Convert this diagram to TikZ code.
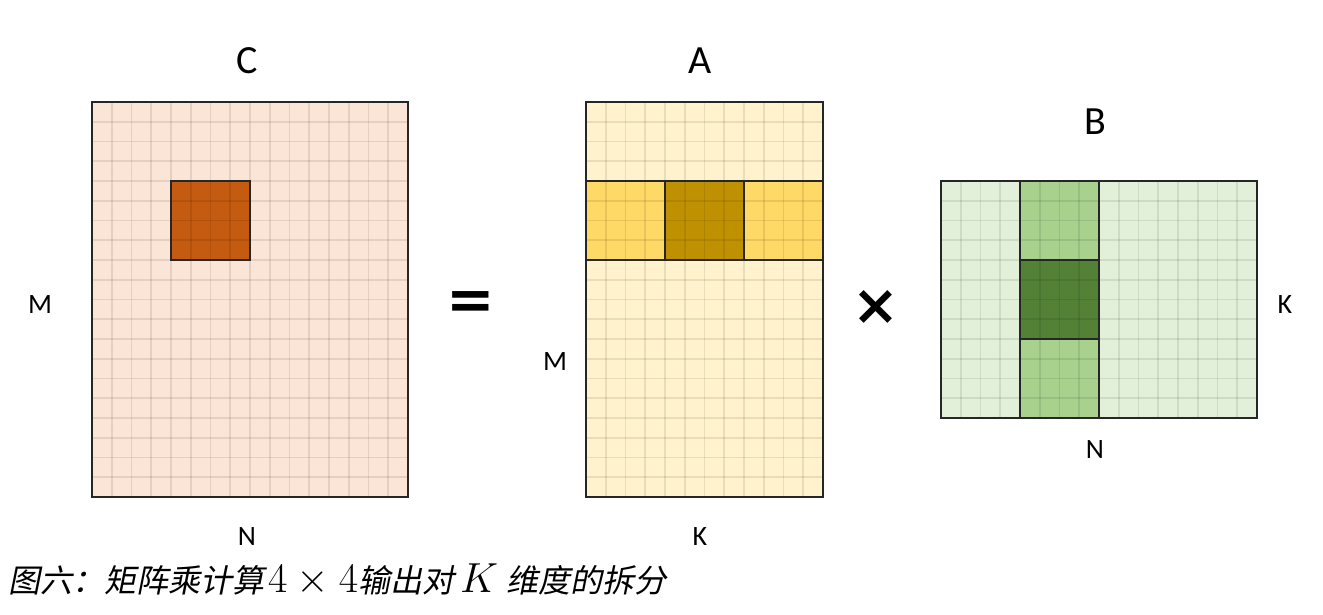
\RequirePackage{fix-cm}
\documentclass[tikz,border=0pt]{standalone}
\usepackage{fontspec}
\setmainfont{Carlito}
\newfontfamily\cjk{Noto Sans CJK SC}[FakeSlant=0.2]
\newfontfamily\symf{DejaVu Sans}
\definecolor{cfill}{HTML}{FBE5D6}
\definecolor{cdark}{HTML}{C55A11}
\definecolor{afill}{HTML}{FFF2CC}
\definecolor{aband}{HTML}{FFD966}
\definecolor{adark}{HTML}{BF9000}
\definecolor{bfill}{HTML}{E2F0D9}
\definecolor{bband}{HTML}{A9D18E}
\definecolor{bdark}{HTML}{538135}
\newcommand\bigmath[1]{{\fontsize{42}{44}\selectfont$#1$}}
\begin{document}
\begin{tikzpicture}[x=1pt,y=-1pt,
  gl/.style={black,opacity=0.09,line width=1.6pt},
  frame/.style={draw=black!85,line width=1.3pt},
  blk/.style={draw=black!85,line width=1.1pt},
  title/.style={font=\fontsize{40}{48}\selectfont,inner sep=0pt},
  dim/.style={font=\fontsize{28}{34}\selectfont,inner sep=0pt}]
\useasboundingbox (0,0) rectangle (1323,614);
\def\c{19.75}
% ---------- C ----------
\fill[cfill] (92,102) rectangle (408,497);
\fill[cdark] (171,181) rectangle (250,260);
\foreach \i in {1,...,15} \draw[gl] ({92+\i*\c},102) -- ({92+\i*\c},497);
\foreach \j in {1,...,19} \draw[gl] (92,{102+\j*\c}) -- (408,{102+\j*\c});
\draw[blk] (171,181) rectangle (250,260);
\draw[frame] (92,102) rectangle (408,497);
% ---------- A ----------
\fill[afill] (586,102) rectangle (823,497);
\fill[aband] (586,181) rectangle (823,260);
\fill[adark] (665,181) rectangle (744,260);
\foreach \i in {1,...,11} \draw[gl] ({586+\i*\c},102) -- ({586+\i*\c},497);
\foreach \j in {1,...,19} \draw[gl] (586,{102+\j*\c}) -- (823,{102+\j*\c});
\draw[blk] (586,181) rectangle (823,260);
\draw[blk] (665,181) rectangle (744,260);
\draw[frame] (586,102) rectangle (823,497);
% ---------- B ----------
\fill[bfill] (941,181) rectangle (1257,418);
\fill[bband] (1020,181) rectangle (1099,418);
\fill[bdark] (1020,260) rectangle (1099,339);
\foreach \i in {1,...,15} \draw[gl] ({941+\i*\c},181) -- ({941+\i*\c},418);
\foreach \j in {1,...,11} \draw[gl] (941,{181+\j*\c}) -- (1257,{181+\j*\c});
\draw[blk] (1020,181) rectangle (1099,418);
\draw[blk] (1020,260) rectangle (1099,339);
\draw[frame] (941,181) rectangle (1257,418);
% ---------- labels ----------
\node[title] (tC) at (247,61) {C};
\node[title] (tA) at (700,61) {A};
\node[title] (tB) at (1095,122) {B};
\node[dim] (lM1) at (40,305) {M};
\node[dim] (lN1) at (247,537) {N};
\node[dim] (lM2) at (555,362) {M};
\node[dim] (lK1) at (700,537) {K};
\node[dim] (lK2) at (1285,305) {K};
\node[dim] (lN2) at (1095,450) {N};
\node[font=\symf\bfseries\fontsize{58}{60}\selectfont,inner sep=0pt] (eq) at (471,306) {=};
\node[font=\symf\bfseries\fontsize{56}{60}\selectfont,inner sep=0pt] (times) at (876,307) {×};
% ---------- caption ----------
\node[anchor=base west,inner sep=0pt,font=\fontsize{32}{38}\selectfont] (cap) at (8,592)
  {{\cjk 图六：矩阵乘计算}\hspace{4pt}\bigmath{4\times4}{\cjk 输出对}\hspace{6pt}\bigmath{K}\hspace{8pt}{\cjk 维度的拆分}};
\end{tikzpicture}
\end{document}
